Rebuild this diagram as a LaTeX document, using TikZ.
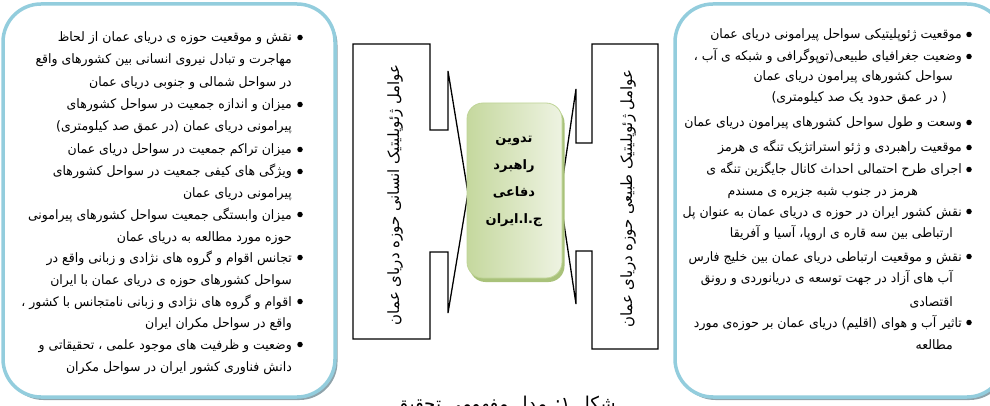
\documentclass[tikz,border=0pt]{standalone}
\usepackage{fontspec}
\usetikzlibrary{shadows}
\TeXXeTstate=1
\newfontfamily\arfont[Script=Arabic,FakeStretch=0.96]{DejaVu Sans}
\newfontfamily\arbfont[Script=Arabic]{DejaVu Sans}
\definecolor{boxblue}{HTML}{93CDDD}
\definecolor{boxshade}{HTML}{8FA3AB}
\definecolor{gdark}{HTML}{C5D89E}
\definecolor{glight}{HTML}{EEF3E2}
\definecolor{gshade}{HTML}{A9C27A}
\newcommand\txtf{\arfont\fontsize{13}{15}\selectfont}
\tikzset{
  bigbox/.style={draw=boxblue, line width=3.5pt, fill=white, rounded corners=38pt,
    drop shadow={shadow xshift=2.5pt, shadow yshift=-3pt, fill=boxshade, opacity=1}},
  cbox/.style={draw=gdark!80!gshade, line width=0.8pt, rounded corners=16pt,
    left color=gdark, right color=glight,
    drop shadow={shadow xshift=2.5pt, shadow yshift=-4pt, fill=gshade, opacity=1}},
  tl/.style={anchor=base east, inner sep=0pt, font=\txtf},
  bul/.style={circle, fill=black, inner sep=0pt, minimum size=5.5pt},
  frame/.style={draw=black, line width=1.3pt, line join=miter, fill=white},
  rtext/.style={inner sep=0pt, rotate=90, font=\arfont\fontsize{15.5}{18}\selectfont},
  ctext/.style={inner sep=0pt, align=center, font=\arbfont\bfseries\fontsize{13}{27}\selectfont},
  captext/.style={anchor=north, inner sep=0pt, font=\arfont\fontsize{19}{22}\selectfont}
}
\begin{document}
\begin{tikzpicture}[x=1pt,y=-1pt]
\useasboundingbox (0,0) rectangle (990,406);
\clip (0,0) rectangle (990,406);
% big boxes
\node[bigbox, minimum width=332pt, minimum height=393pt] (lbox) at (169,200.5) {};
\node[bigbox, minimum width=330pt, minimum height=393pt] (rbox) at (840,200.5) {};
% callout frames
\draw[frame] (353,44) -- (430,44) -- (430,130) -- (448,130) -- (448,71) -- (468,193)
  -- (448,313) -- (448,252) -- (430,252) -- (430,339) -- (353,339) -- cycle;
\draw[frame] (658,44) -- (592,44) -- (592,143) -- (576,143) -- (576,89) -- (560,197)
  -- (576,304) -- (576,251) -- (592,251) -- (592,349) -- (658,349) -- cycle;
\node[rtext] (lt) at (395,195) {\beginR عوامل ژئوپلیتیک انسانی حوزه دریای عمان\endR};
\node[rtext] (rt) at (628,199) {\beginR عوامل ژئوپلیتیک طبیعی حوزه دریای عمان\endR};
% centre box
\node[cbox, minimum width=95pt, minimum height=175pt] (cb) at (514.5,190.5) {};
\node[ctext] (ct) at (514,181) {\beginR تدوین\endR\\\beginR راهبرد\endR\\\beginR دفاعی\endR\\\beginR ج.ا.ایران\endR};
% left box text
\node[tl] (L1) at (292,42) {\beginR نقش و موقعیت حوزه ی دریای عمان از لحاظ\endR};
\node[tl] (L2) at (292,64) {\beginR مهاجرت و تبادل نیروی انسانی بین کشورهای واقع\endR};
\node[tl] (L3) at (292,87) {\beginR در سواحل شمالی و جنوبی دریای عمان\endR};
\node[tl] (L4) at (292,109) {\beginR میزان و اندازه جمعیت در سواحل کشورهای\endR};
\node[tl] (L5) at (292,131) {\beginR پیرامونی دریای عمان (در عمق صد کیلومتری)\endR};
\node[tl] (L6) at (292,154) {\beginR میزان تراکم جمعیت در سواحل دریای عمان\endR};
\node[tl] (L7) at (292,176) {\beginR ویژگی های کیفی جمعیت در سواحل کشورهای\endR};
\node[tl] (L8) at (292,197) {\beginR پیرامونی دریای عمان\endR};
\node[tl] (L9) at (292,219) {\beginR میزان وابستگی جمعیت سواحل کشورهای پیرامونی\endR};
\node[tl] (L10) at (292,241) {\beginR حوزه مورد مطالعه به دریای عمان\endR};
\node[tl] (L11) at (292,262) {\beginR تجانس اقوام و گروه های نژادی و زبانی واقع در\endR};
\node[tl] (L12) at (292,284) {\beginR سواحل کشورهای حوزه ی دریای عمان  با ایران\endR};
\node[tl] (L13) at (292,306) {\beginR اقوام و گروه های نژادی و زبانی نامتجانس با  کشور ،\endR};
\node[tl] (L14) at (292,327) {\beginR واقع در سواحل مکران ایران\endR};
\node[tl] (L15) at (292,349) {\beginR وضعیت و ظرفیت های موجود علمی ، تحقیقاتی و\endR};
\node[tl] (L16) at (292,371) {\beginR دانش فناوری کشور ایران در سواحل مکران\endR};
\foreach \n/\y in {1/42,4/109,6/154,7/176,9/219,11/262,13/306,15/349}
  \node[bul] (LB\n) at (300,\y-4.5) {};
% right box text
\begin{scope}
\clip (680,0) rectangle (990,406);
\node[tl] (R1) at (962,39) {\beginR موقعیت ژئوپلیتیکی سواحل پیرامونی دریای عمان\endR};
\node[tl] (R2) at (962,61) {\beginR وضعیت جغرافیای طبیعی(توپوگرافی و شبکه ی آب ،\endR};
\node[tl] (R3) at (953,81) {\beginR سواحل کشورهای پیرامون دریای عمان\endR};
\node[tl] (R4) at (947,102) {\beginR ( در عمق حدود یک صد کیلومتری)\endR};
\node[tl] (R5) at (962,127) {\beginR وسعت و طول سواحل کشورهای پیرامون دریای عمان\endR};
\node[tl] (R6) at (962,152) {\beginR موقعیت راهبردی و ژئو استراتژیک تنگه ی هرمز\endR};
\node[tl] (R7) at (962,174) {\beginR اجرای طرح احتمالی احداث کانال جایگزین تنگه ی\endR};
\node[tl] (R8) at (918,196) {\beginR هرمز در جنوب شبه جزیره ی مسندم\endR};
\node[tl] (R9) at (962,216) {\beginR نقش کشور ایران در حوزه ی دریای عمان به عنوان پل\endR};
\node[tl] (R10) at (953,237) {\beginR ارتباطی بین سه قاره ی اروپا، آسیا و آفریقا\endR};
\node[tl] (R11) at (962,261) {\beginR نقش و موقعیت ارتباطی دریای عمان بین خلیج فارس\endR};
\node[tl] (R12) at (953,282) {\beginR آب های آزاد در جهت توسعه ی دریانوردی و رونق\endR};
\node[tl] (R13) at (953,306) {\beginR اقتصادی\endR};
\node[tl] (R14) at (962,327) {\beginR تاثیر آب و هوای (اقلیم) دریای عمان بر حوزه‌ی مورد\endR};
\node[tl] (R15) at (953,349) {\beginR مطالعه\endR};
\end{scope}
\foreach \n/\y in {1/39,2/61,5/127,6/152,7/174,9/216,11/261,14/327}
  \node[bul] (RB\n) at (969,\y-4.5) {};
% caption (cut by the lower edge)
\node[captext] (cap) at (505,396) {\beginR شکل ۱: مدل مفهومی تحقیق\endR};
\end{tikzpicture}
\end{document}
